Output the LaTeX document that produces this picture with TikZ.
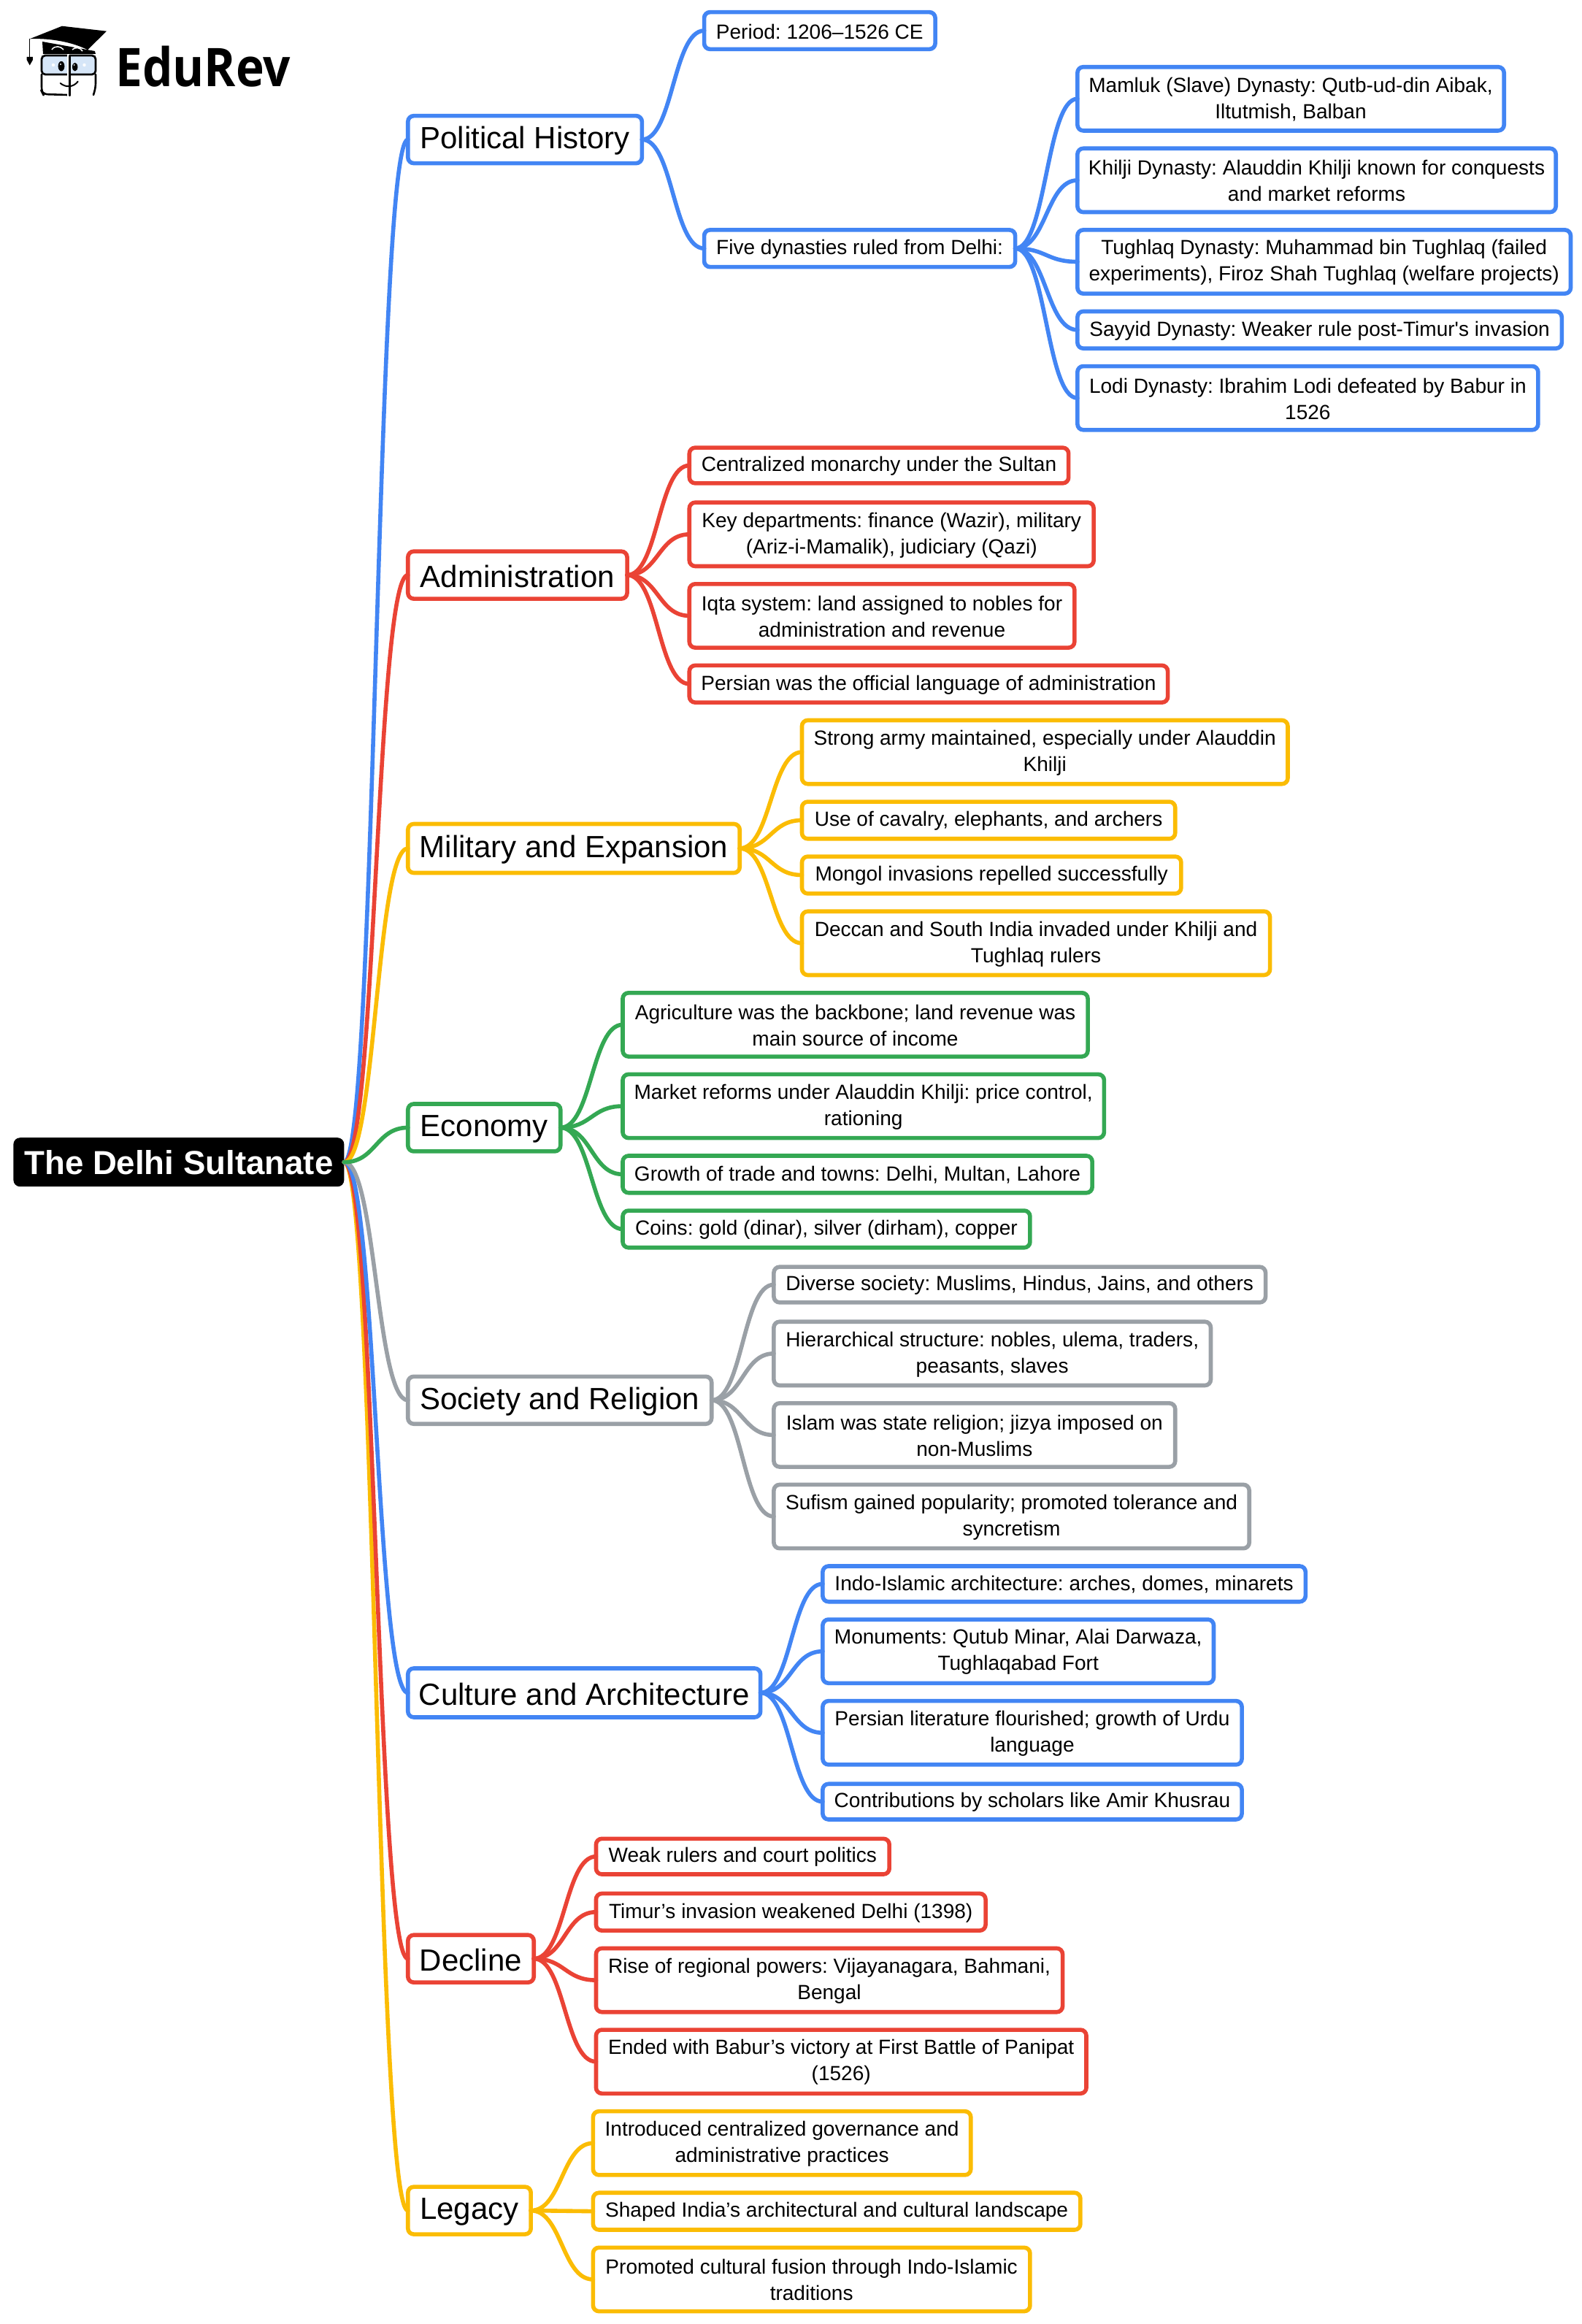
\documentclass[tikz,border=0pt]{standalone}
\usepackage{fontspec}
\setmainfont{Liberation Sans}[Ligatures={TeXOff,CommonOff}]
\newfontfamily\logofont{Open Sans}[FakeStretch=0.9]
\usetikzlibrary{calc}
\frenchspacing
\definecolor{cblue}{HTML}{4285F4}
\definecolor{cred}{HTML}{EA4335}
\definecolor{cyellow}{HTML}{FBBC04}
\definecolor{cgreen}{HTML}{34A853}
\definecolor{cgrey}{HTML}{9AA0A6}
\definecolor{capblue}{HTML}{D6E6F8}
\tikzset{
  box/.style={rectangle,rounded corners=8pt,line width=5.6pt,fill=white,inner sep=0pt,outer sep=0pt},
  topic/.style={box},
  boxlabel/.style={inner sep=0pt,align=center,text=black,yshift=-1pt,font=\fontsize{28.05}{36}\selectfont},
  topiclabel/.style={inner sep=0pt,align=center,text=black,yshift=-2pt,font=\fontsize{42}{48}\selectfont},
  rootbox/.style={rectangle,rounded corners=9pt,fill=black,inner sep=0pt,outer sep=0pt,text=white,font=\fontsize{45.6}{50}\selectfont\bfseries},
  branch/.style={line width=5.6pt,line cap=round},
  logoline/.style={line width=2.6pt,line cap=round,line join=round,draw=black},
}
% name, x0, y0, x1, y1 in the unscaled layout, colour, style, text
\newcommand{\bx}[8]{\node[#7,draw=#6,minimum width={(#4-#2)*2.029pt},minimum height={(#5-#3)*2.029pt},label={[#7label]center:{#8}}] (#1) at ({(#2+#4)/2+0.4},{(#3+#5)/2+0.2}) {};}
\newcommand{\lnk}[3]{\draw[branch,draw=#3] let \p1=(#1.east),\p2=(#2.west) in (\p1) .. controls ({0.5*\x1+0.5*\x2},\y1) and ({0.5*\x1+0.5*\x2},\y2) .. (\p2);}
\begin{document}
\begin{tikzpicture}[x=2.029pt,y=-2.029pt]
\useasboundingbox (0,0) rectangle (1068,1568.8);
\fill[white] (0,0) rectangle (1068,1568.8);
% logo, in full-size pixels
\begin{scope}[x=1pt,y=-1pt]
\fill[black] (58,57) -- (130,70) -- (131,74) -- (59,74) -- cycle;
\draw[white,line width=1.5pt] (71,68) .. controls (75,62) and (83,63) .. (87,68);
\draw[white,line width=1.5pt] (99,68) .. controls (103,64) and (110,65) .. (113,70);
\fill[black] (40.7,53.3) -- (85,35.7) -- (146,42.7) -- (120,68.3) .. controls (100,58) and (70,52) .. cycle;
\draw[line width=1.6pt] (40.7,53.3) -- (40.7,78);
\fill[black] (36.7,78) -- (45,78) -- (45,82) -- (40.7,89.5) -- (36.7,82) -- cycle;
\fill[capblue,draw=black,line width=2.8pt,rounded corners=5pt] (57,76) rectangle (131,102);
\draw[logoline,rounded corners=6pt] (57,102) -- (57,125) -- (59,129) -- (92,130);
\draw[logoline,rounded corners=6pt] (131,102) -- (131,120) -- (128,130);
\draw[white,line width=3.8pt] (93.5,74) -- (93.5,132);
\draw[logoline,line width=2.2pt] (95.5,76) -- (95.5,131);
\fill[black] (84,90.7) circle [x radius=4.4pt,y radius=6.8pt];
\fill[black] (102.7,91.7) circle [x radius=3.7pt,y radius=5.8pt];
\fill[white] (83,88) circle [radius=1.2pt];
\fill[white] (101.7,89) circle [radius=1pt];
\fill[white] (73,89) circle [radius=2.2pt];
\fill[white] (115.5,89) circle [radius=2.2pt];
\draw[logoline,line width=2pt] (82.7,114) .. controls (90,120) and (100,120) .. (106.7,111.7);
\end{scope}
\node[font=\logofont\fontsize{73}{80}\selectfont\bfseries,inner sep=0pt,anchor=base west,text=black] (logo) at (78,58.2) {EduRev};
% nodes
\node[rootbox,minimum width=453pt,minimum height=67pt] (root) at (120.7,784.5) {The Delhi Sultanate};
\bx{pol}{275}{78}{433}{110}{cblue}{topic}{Political History}
\bx{period}{475}{8}{631}{33}{cblue}{box}{Period: 1206–1526 CE}
\bx{five}{475}{155}{685}{180}{cblue}{box}{Five dynasties ruled from Delhi:}
\bx{mam}{727}{45}{1015}{88}{cblue}{box}{Mamluk (Slave) Dynasty: Qutb-ud-din Aibak,\\Iltutmish, Balban}
\bx{khi}{727}{100}{1050}{143}{cblue}{box}{Khilji Dynasty: Alauddin Khilji known for conquests\\and market reforms}
\bx{tug}{727}{155}{1060}{198}{cblue}{box}{Tughlaq Dynasty: Muhammad bin Tughlaq (failed\\experiments), Firoz Shah Tughlaq (welfare projects)}
\bx{say}{727}{210}{1054}{235}{cblue}{box}{Sayyid Dynasty: Weaker rule post-Timur's invasion}
\bx{lod}{727}{247}{1038}{290}{cblue}{box}{Lodi Dynasty: Ibrahim Lodi defeated by Babur in\\1526}
\bx{adm}{275}{372}{423}{404}{cred}{topic}{Administration}
\bx{cen}{465}{302}{721}{326}{cred}{box}{Centralized monarchy under the Sultan}
\bx{key}{465}{339}{738}{382}{cred}{box}{Key departments: finance (Wazir), military\\(Ariz-i-Mamalik), judiciary (Qazi)}
\bx{iqt}{465}{394}{725}{437}{cred}{box}{Iqta system: land assigned to nobles for\\administration and revenue}
\bx{per}{465}{449}{788}{474}{cred}{box}{Persian was the official language of administration}
\bx{mil}{275}{556}{499}{589}{cyellow}{topic}{Military and Expansion}
\bx{str}{541}{486}{869}{529}{cyellow}{box}{Strong army maintained, especially under Alauddin\\Khilji}
\bx{cav}{541}{541}{793}{566}{cyellow}{box}{Use of cavalry, elephants, and archers}
\bx{mon}{541}{578}{797}{603}{cyellow}{box}{Mongol invasions repelled successfully}
\bx{dec}{541}{615}{857}{658}{cyellow}{box}{Deccan and South India invaded under Khilji and\\Tughlaq rulers}
\bx{eco}{275}{745}{378}{777}{cgreen}{topic}{Economy}
\bx{agr}{420}{670}{734}{713}{cgreen}{box}{Agriculture was the backbone; land revenue was\\main source of income}
\bx{mar}{420}{725}{745}{768}{cgreen}{box}{Market reforms under Alauddin Khilji: price control,\\rationing}
\bx{gro}{420}{780}{737}{805}{cgreen}{box}{Growth of trade and towns: Delhi, Multan, Lahore}
\bx{coi}{420}{817}{695}{842}{cgreen}{box}{Coins: gold (dinar), silver (dirham), copper}
\bx{soc}{275}{929}{480}{961}{cgrey}{topic}{Society and Religion}
\bx{div}{522}{855}{854}{879}{cgrey}{box}{Diverse society: Muslims, Hindus, Jains, and others}
\bx{hie}{522}{892}{817}{935}{cgrey}{box}{Hierarchical structure: nobles, ulema, traders,\\peasants, slaves}
\bx{isl}{522}{947}{793}{990}{cgrey}{box}{Islam was state religion; jizya imposed on\\non-Muslims}
\bx{suf}{522}{1002}{843}{1045}{cgrey}{box}{Sufism gained popularity; promoted tolerance and\\syncretism}
\bx{cul}{275}{1126}{513}{1159}{cblue}{topic}{Culture and Architecture}
\bx{ind}{555}{1057}{881}{1081}{cblue}{box}{Indo-Islamic architecture: arches, domes, minarets}
\bx{mnt}{555}{1093}{819}{1136}{cblue}{box}{Monuments: Qutub Minar, Alai Darwaza,\\Tughlaqabad Fort}
\bx{lit}{555}{1148}{838}{1191}{cblue}{box}{Persian literature flourished; growth of Urdu\\language}
\bx{con}{555}{1204}{838}{1228}{cblue}{box}{Contributions by scholars like Amir Khusrau}
\bx{dcl}{275}{1306}{360}{1338}{cred}{topic}{Decline}
\bx{wea}{402}{1241}{600}{1265}{cred}{box}{Weak rulers and court politics}
\bx{tim}{402}{1278}{665}{1303}{cred}{box}{Timur’s invasion weakened Delhi (1398)}
\bx{ris}{402}{1315}{717}{1358}{cred}{box}{Rise of regional powers: Vijayanagara, Bahmani,\\Bengal}
\bx{end}{402}{1370}{733}{1413}{cred}{box}{Ended with Babur’s victory at First Battle of Panipat\\(1526)}
\bx{leg}{275}{1476}{358}{1508}{cyellow}{topic}{Legacy}
\bx{int}{400}{1425}{655}{1468}{cyellow}{box}{Introduced centralized governance and\\administrative practices}
\bx{sha}{400}{1480}{729}{1505}{cyellow}{box}{Shaped India’s architectural and cultural landscape}
\bx{pro}{400}{1517}{695}{1560}{cyellow}{box}{Promoted cultural fusion through Indo-Islamic\\traditions}
% connectors
\lnk{root}{pol}{cblue}\lnk{root}{adm}{cred}\lnk{root}{mil}{cyellow}
\lnk{root}{leg}{cyellow}\lnk{root}{dcl}{cred}\lnk{root}{cul}{cblue}\lnk{root}{soc}{cgrey}\lnk{root}{eco}{cgreen}
\lnk{pol}{period}{cblue}\lnk{pol}{five}{cblue}
\lnk{five}{mam}{cblue}\lnk{five}{khi}{cblue}\lnk{five}{tug}{cblue}\lnk{five}{say}{cblue}\lnk{five}{lod}{cblue}
\lnk{adm}{cen}{cred}\lnk{adm}{key}{cred}\lnk{adm}{iqt}{cred}\lnk{adm}{per}{cred}
\lnk{mil}{str}{cyellow}\lnk{mil}{cav}{cyellow}\lnk{mil}{mon}{cyellow}\lnk{mil}{dec}{cyellow}
\lnk{eco}{agr}{cgreen}\lnk{eco}{mar}{cgreen}\lnk{eco}{gro}{cgreen}\lnk{eco}{coi}{cgreen}
\lnk{soc}{div}{cgrey}\lnk{soc}{hie}{cgrey}\lnk{soc}{isl}{cgrey}\lnk{soc}{suf}{cgrey}
\lnk{cul}{ind}{cblue}\lnk{cul}{mnt}{cblue}\lnk{cul}{lit}{cblue}\lnk{cul}{con}{cblue}
\lnk{dcl}{wea}{cred}\lnk{dcl}{tim}{cred}\lnk{dcl}{ris}{cred}\lnk{dcl}{end}{cred}
\lnk{leg}{int}{cyellow}\lnk{leg}{sha}{cyellow}\lnk{leg}{pro}{cyellow}
\end{tikzpicture}
\end{document}
